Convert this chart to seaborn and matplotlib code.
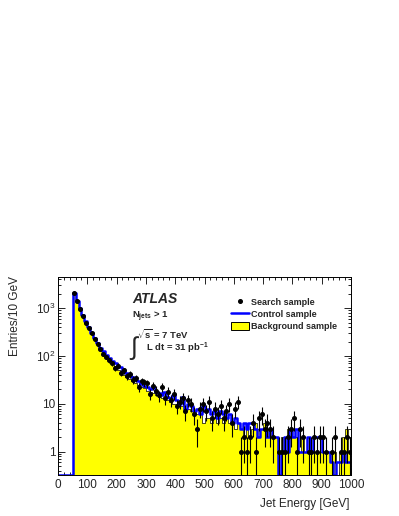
import numpy as np
import pandas as pd
import matplotlib
matplotlib.use('Agg')
import matplotlib.pyplot as plt
import seaborn as sns
from matplotlib.lines import Line2D
from matplotlib.patches import Patch
from matplotlib.ticker import MultipleLocator, LogLocator, FixedLocator, FixedFormatter, NullFormatter

# bins of 10 GeV from 0 to 1000 GeV (nothing below 50 GeV)
n_bins, e_range = 100, (0, 1000)
bin_centers = np.arange(5, 1000, 10)
empty_low = [0, 0, 0, 0, 0]

# Background sample (yellow), bins 50..1000
background = empty_low + [
    2000, 1350, 950, 680, 500, 380, 290, 225, 175, 140,
    115, 95, 80, 68, 58, 50, 44, 40, 36, 33,
    30, 27, 25, 23, 21, 19, 18, 17, 15, 14,
    13, 13, 12, 11, 10, 10, 9, 9, 8, 8,
    7, 7, 6, 6, 4, 5, 5, 4, 5, 4,
    5, 4, 5, 4, 4, 3, 4, 3, 2, 3,
    2, 3, 4, 3, 3, 4, 3, 3, 2, 2,
    0, 2, 1, 3, 2, 2, 2, 1, 2, 1,
    1, 1, 1, 1, 1, 1, 1, 1, 1, 1,
    0, 1, 2, 3, 1,
]

# Control sample (blue line), normalised
control = empty_low + [
    2100, 1450, 1000, 720, 530, 400, 310, 240, 190, 150,
    125, 105, 90, 80, 72, 60, 58, 48, 45, 40,
    36, 32, 30, 26, 24, 22, 20, 22, 18, 17,
    15, 18, 14, 13, 15, 12, 10, 14, 8, 10,
    9, 7, 8, 6, 9, 7, 8, 6, 7, 5,
    7, 6, 5, 6, 4, 5, 4, 3, 4, 3,
    4, 4, 3, 2, 3, 3, 2, 3, 2, 2,
    0, 1, 2, 1, 3, 2, 3, 1, 1, 1,
    2, 1, 2, 2, 2, 1, 1, 1, 0.6, 0,
    0.6, 0.6, 1, 0.6, 0.6,
]

# Search sample (data points), counts
search = empty_low + [
    2100, 1400, 950, 680, 500, 390, 300, 230, 180, 140,
    110, 95, 82, 70, 55, 62, 45, 50, 38, 42,
    32, 35, 22, 30, 28, 27, 16, 24, 19, 15,
    22, 13, 18, 12, 16, 9, 11, 13, 7, 12,
    10, 6, 3, 8, 10, 7, 11, 5, 8, 6,
    9, 5, 7, 10, 4, 8, 11, 1, 2, 1,
    2, 4, 1, 5, 6, 3, 4, 3, 2, 0,
    1, 1, 1, 2, 3, 5, 1, 3, 2, 0,
    1, 1, 2, 1, 2, 2, 1, 0, 1, 2,
    0, 1, 1, 2, 1,
]

y_min, y_max = 0.326, 4500

df = pd.DataFrame({
    'energy': bin_centers,
    'background': np.array(background, dtype=float),
    'control': np.array(control, dtype=float),
    'search': np.array(search, dtype=float),
})
# empty control bins are drawn at the axis floor (ROOT style)
df['control_draw'] = df['control'].where(df['control'] > 0, y_min)

sns.set_style('ticks')
plt.rcParams['font.family'] = ['Liberation Sans', 'DejaVu Sans']
plt.rcParams['mathtext.fontset'] = 'custom'
plt.rcParams['mathtext.rm'] = 'Liberation Sans'
plt.rcParams['mathtext.bf'] = 'Liberation Sans:bold'
plt.rcParams['mathtext.it'] = 'Liberation Sans:italic'

fig = plt.figure(figsize=(3.99, 5.16), dpi=100)
ax = fig.add_axes([0.1454, 0.0795, 0.7343, 0.3837])

# --- background: yellow filled histogram ---
sns.histplot(data=df, x='energy', weights='background', bins=n_bins, binrange=e_range,
             element='step', fill=True, color='#ffff00', edgecolor='black',
             linewidth=0.5, alpha=1, ax=ax)

# --- control: blue step line ---
sns.histplot(data=df, x='energy', weights='control_draw', bins=n_bins, binrange=e_range,
             element='step', fill=False, color='#0000ff', linewidth=1.8, ax=ax)

# --- search: points with poisson errors ---
pts = df[df['search'] > 0]
err = np.sqrt(pts['search'].values)
ax.errorbar(pts['energy'], pts['search'], yerr=[np.minimum(err, pts['search'].values - 1e-6), err],
            fmt='o', color='black', ms=2.6, elinewidth=0.8, capsize=0, zorder=5)

ax.set_yscale('log')
ax.set_xlim(0, 1000)
ax.set_ylim(y_min, y_max)

# ticks ROOT style
ax.xaxis.set_major_locator(MultipleLocator(100))
ax.xaxis.set_minor_locator(MultipleLocator(20))
ax.yaxis.set_major_locator(FixedLocator([1, 10, 100, 1000]))
ax.yaxis.set_major_formatter(FixedFormatter(['1', '10', r'$\mathregular{10^{2}}$', r'$\mathregular{10^{3}}$']))
ax.yaxis.set_minor_locator(LogLocator(base=10, subs=np.arange(2, 10), numticks=20))
ax.yaxis.set_minor_formatter(NullFormatter())
ax.tick_params(which='both', direction='in', top=True, right=True, labelsize=8.5,
               width=0.6, color='black')
ax.tick_params(which='major', length=5)
ax.tick_params(which='minor', length=2.5)
ax.tick_params(axis='x', pad=3)
ax.tick_params(axis='y', pad=2)
for s in ax.spines.values():
    s.set_linewidth(0.7)
    s.set_color('black')
ax.set_xlabel('')
ax.set_ylabel('')

fig.text(15 / 399, 1 - 316 / 516, 'Entries/10 GeV', rotation=90, ha='center', va='center', fontsize=8.5)
fig.text(350 / 399, 1 - 504 / 516, 'Jet Energy [GeV]', ha='right', va='center', fontsize=8.5)

# annotations
ax.text(0.254, 0.889, 'ATLAS', transform=ax.transAxes, fontsize=10, fontweight='bold',
        fontstyle='italic', ha='left', va='center')
ax.text(0.251, 0.800, r'N$_{\mathbf{jets}}$ > 1', transform=ax.transAxes, fontsize=6.8,
        fontweight='bold', ha='left', va='center')
ax.text(0.269, 0.712, r'$\sqrt{\mathbf{s}}$ = 7 TeV', transform=ax.transAxes, fontsize=6.8,
        fontweight='bold', ha='left', va='center')
ax.text(0.262, 0.640, r'$\int$', transform=ax.transAxes, fontsize=18, ha='center', va='center')
ax.text(0.299, 0.641, r'L dt = 31 pb$^{\mathbf{-1}}$', transform=ax.transAxes, fontsize=6.8,
        fontweight='bold', ha='left', va='center')

# legend
handles = [
    Line2D([], [], marker='o', color='black', linestyle='none', markersize=2.6),
    Line2D([], [], color='#0000ff', linewidth=1.8),
    Patch(facecolor='#ffff00', edgecolor='black', linewidth=0.7),
]
labels = ['Search sample', 'Control sample', 'Background sample']
ax.legend(handles, labels, loc='upper left', bbox_to_anchor=(0.589, 0.895),
          frameon=False, prop=dict(weight='bold', size=6.5), handlelength=2.0,
          handleheight=0.9, handletextpad=0.3, labelspacing=0.34,
          borderpad=0, borderaxespad=0)

fig.savefig('out.png', dpi=100)
